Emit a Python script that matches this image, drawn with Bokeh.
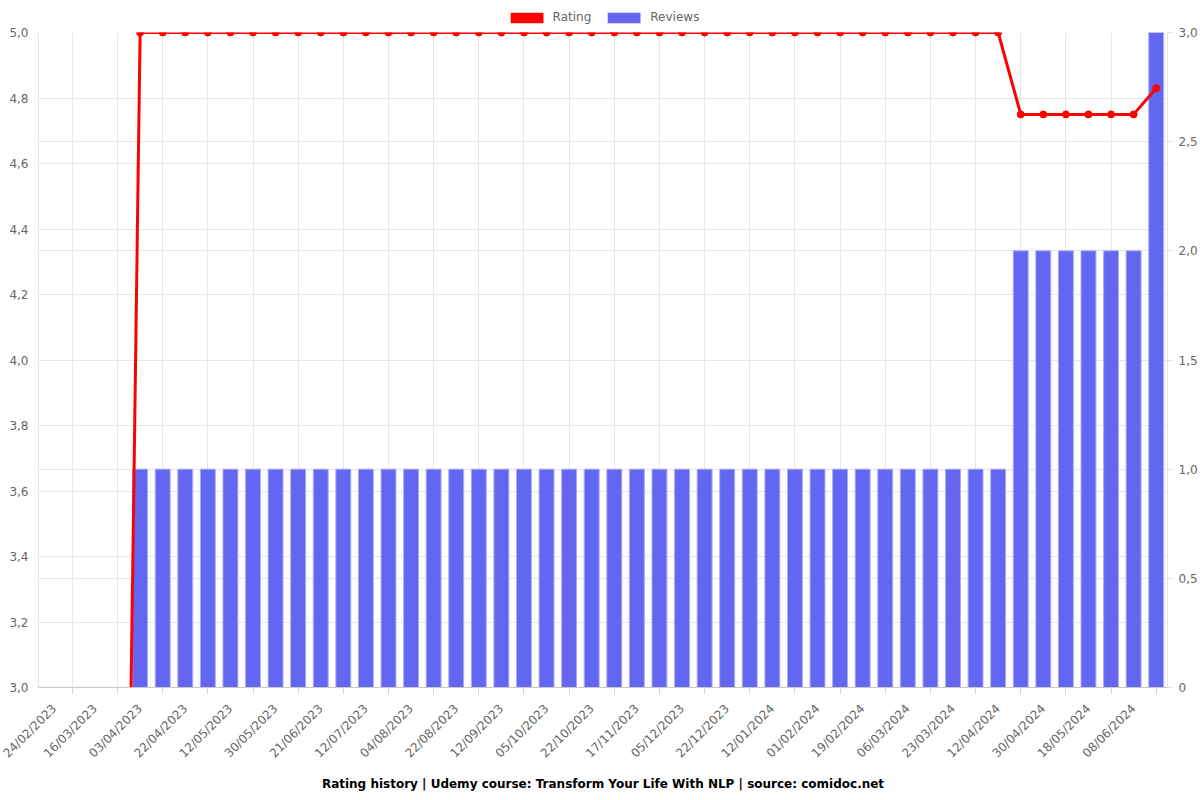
from math import pi
from bokeh.plotting import figure
from bokeh.layouts import column
from bokeh.models import (Range1d, LinearAxis, FixedTicker, Grid, Legend, LegendItem,
                          ColumnDataSource, CustomJSTickFormatter, Title)
from bokeh.embed import file_html
from bokeh.resources import INLINE

# ---- data ----
dates = ["24/02/2023", "06/03/2023", "16/03/2023", "25/03/2023", "03/04/2023", "13/04/2023",
         "22/04/2023", "02/05/2023", "12/05/2023", "21/05/2023", "30/05/2023", "10/06/2023",
         "21/06/2023", "01/07/2023", "12/07/2023", "24/07/2023", "04/08/2023", "13/08/2023",
         "22/08/2023", "01/09/2023", "12/09/2023", "24/09/2023", "05/10/2023", "13/10/2023",
         "22/10/2023", "04/11/2023", "17/11/2023", "26/11/2023", "05/12/2023", "13/12/2023",
         "22/12/2023", "02/01/2024", "12/01/2024", "22/01/2024", "01/02/2024", "10/02/2024",
         "19/02/2024", "27/02/2024", "06/03/2024", "14/03/2024", "23/03/2024", "02/04/2024",
         "12/04/2024", "21/04/2024", "30/04/2024", "09/05/2024", "18/05/2024", "29/05/2024",
         "08/06/2024", "17/06/2024"]
rating = ([0.0] * 4) + ([5.0] * 39) + ([4.75] * 6) + [4.83]
reviews = ([0] * 4) + ([1] * 39) + ([2] * 6) + [3]
rating_ticks = [3.0, 3.2, 3.4, 3.6, 3.8, 4.0, 4.2, 4.4, 4.6, 4.8, 5.0]
review_ticks = [0, 0.5, 1.0, 1.5, 2.0, 2.5, 3.0]
series_names = ["Rating", "Reviews"]
title_text = "Rating history | Udemy course: Transform Your Life With NLP | source: comidoc.net"

FONT = "DejaVu Sans"
TXT = "#666666"
GRID = "#e6e6e6"
RED = "#ff0000"
BLUE = "#6366f1"
BLUE_EDGE = "#a9abf7"

idx = list(range(len(dates)))
src = ColumnDataSource(dict(x=idx, rating=rating, reviews=reviews))
label_idx = idx[0::2]
between_idx = idx[1::2]

# ---- legend strip (above the chart) ----
lf = figure(width=1200, height=24, output_backend="svg", toolbar_location=None,
            x_axis_location=None, y_axis_location=None, min_border=0)
lf.outline_line_color = None
lf.xgrid.visible = False
lf.ygrid.visible = False
sw_rating = lf.vbar(x="x", top="rating", width=0, source=src, fill_color=RED,
                    line_color=RED, line_width=3, line_alpha=0)
sw_reviews = lf.vbar(x="x", top="reviews", width=0, source=src, fill_color=BLUE,
                     line_color=BLUE_EDGE, line_width=1, line_alpha=0)
legend = Legend(items=[LegendItem(label=series_names[0], renderers=[sw_rating]),
                       LegendItem(label=series_names[1], renderers=[sw_reviews])],
                orientation="horizontal", location="bottom_center",
                glyph_width=41, glyph_height=13, label_standoff=6, spacing=12,
                padding=1, margin=0, border_line_color=None, background_fill_alpha=0,
                label_text_font=FONT, label_text_font_size="12px", label_text_color=TXT)
lf.add_layout(legend)

# ---- main chart ----
p = figure(width=1200, height=776, output_backend="svg", toolbar_location=None,
           x_range=Range1d(-0.5, len(dates) - 0.5), y_range=Range1d(3, 5))
p.extra_y_ranges = {"rev": Range1d(0, 3)}
p.min_border_left = 38
p.min_border_right = 33
p.min_border_top = 8
p.min_border_bottom = 113
p.outline_line_color = None
p.background_fill_color = "white"
p.border_fill_color = "white"

bars = p.vbar(x="x", top="reviews", width=0.66, source=src, y_range_name="rev",
              fill_color=BLUE, line_color=BLUE_EDGE, line_width=1)
p.line(x="x", y="rating", source=src, line_color=RED, line_width=3)
p.scatter(x="x", y="rating", source=src, size=7, fill_color=RED, line_color=RED)

# x axis
xa = p.xaxis[0]
xa.ticker = FixedTicker(ticks=label_idx, minor_ticks=between_idx)
xa.major_label_overrides = {i: dates[i] for i in label_idx}
xa.major_label_orientation = pi / 4
xa.major_tick_out = 0
xa.major_tick_in = 0
xa.minor_tick_out = 6
xa.minor_tick_in = 0
xa.minor_tick_line_color = "#d4d4d4"
xa.axis_line_color = "#c8c8c8"
xa.major_label_text_font = FONT
xa.major_label_text_font_size = "12px"
xa.major_label_text_color = TXT
xa.major_label_standoff = 13
p.xgrid.ticker = FixedTicker(ticks=between_idx)
p.xgrid.grid_line_color = GRID

# left axis
ya = p.yaxis[0]
ya.ticker = FixedTicker(ticks=rating_ticks)
ya.formatter = CustomJSTickFormatter(code="return tick.toFixed(1).replace('.', ',');")
ya.major_tick_out = 0
ya.major_tick_in = 0
ya.minor_tick_out = 0
ya.minor_tick_in = 0
ya.axis_line_color = GRID
ya.major_label_text_font = FONT
ya.major_label_text_font_size = "12px"
ya.major_label_text_color = TXT
ya.major_label_standoff = 10
p.ygrid.grid_line_color = GRID

# right axis
ra = LinearAxis(y_range_name="rev", ticker=FixedTicker(ticks=review_ticks),
                formatter=CustomJSTickFormatter(
                    code="return tick == 0 ? '0' : tick.toFixed(1).replace('.', ',');"))
ra.major_tick_out = 6
ra.major_tick_in = 0
ra.minor_tick_out = 0
ra.minor_tick_in = 0
ra.major_tick_line_color = GRID
ra.axis_line_color = GRID
ra.major_label_text_font = FONT
ra.major_label_text_font_size = "12px"
ra.major_label_text_color = TXT
ra.major_label_standoff = 5
p.add_layout(ra, "right")
p.add_layout(Grid(dimension=1, ticker=ra.ticker, y_range_name="rev", grid_line_color=GRID))

# title below
t = Title(text=title_text, align="center", text_font=FONT, text_font_size="12px",
          text_font_style="bold", text_color="#000000", standoff=12)
p.add_layout(t, "below")

layout = column(lf, p, spacing=0)
open("out.html", "w").write(file_html(layout, INLINE))
